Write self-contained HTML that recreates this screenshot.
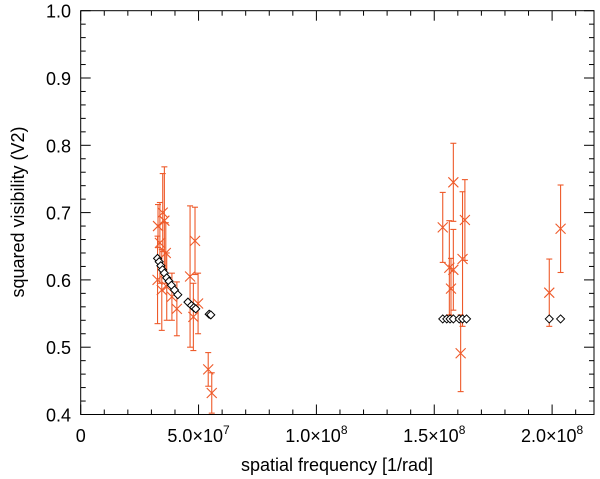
<!DOCTYPE html>
<html><head><meta charset="utf-8"><style>
html,body{margin:0;padding:0;background:#fff;}
svg{display:block;font-family:"Liberation Sans",sans-serif;}
</style></head><body>
<svg id="chart" width="600" height="479" viewBox="0 0 600 479" xmlns="http://www.w3.org/2000/svg">
<g id="axes"></g>
<g id="obs"></g>
<g id="model"></g>
<text x="337" y="471" font-size="18" text-anchor="middle">spatial frequency [1/rad]</text>
<text transform="translate(24,212) rotate(-90)" font-size="18" text-anchor="middle">squared visibility (V2)</text>
</svg>
<script>
// observed V2 (x in units of 1e7 1/rad)
const obsX = [3.28,3.26,3.36,3.44,3.48,3.55,3.61,3.65,3.87,4.08,4.64,4.78,4.85,4.98,5.41,5.56,
  15.36,15.81,16.30,16.20,15.64,15.81,15.71,16.12,19.88,20.36];
const obsY = [0.680,0.600,0.655,0.585,0.700,0.688,0.640,0.590,0.575,0.557,0.605,0.545,0.658,0.565,0.467,0.432,
  0.678,0.745,0.689,0.631,0.618,0.615,0.587,0.491,0.581,0.676];
const obsErr = [0.032,0.065,0.06,0.06,0.058,0.08,0.045,0.05,0.035,0.04,0.105,0.05,0.05,0.045,0.025,0.03,
  0.052,0.058,0.06,0.1,0.07,0.06,0.045,0.057,0.05,0.065];
// model V2
const modX = [3.26,3.33,3.40,3.47,3.55,3.65,3.75,3.85,3.98,4.12,4.55,4.70,4.80,4.88,5.45,5.52,
  15.36,15.53,15.67,15.81,16.06,16.20,16.37,19.88,20.36];
const modY = [0.632,0.627,0.621,0.615,0.610,0.603,0.598,0.592,0.585,0.578,0.567,0.562,0.559,0.557,0.549,0.548,
  0.542,0.542,0.542,0.542,0.542,0.542,0.542,0.542,0.542];
const xTicks = [0,5,10,15,20];
const xTickLabels = ["0","5.0×10<tspan dy='-8' font-size='12'>7</tspan>","1.0×10<tspan dy='-8' font-size='12'>8</tspan>","1.5×10<tspan dy='-8' font-size='12'>8</tspan>","2.0×10<tspan dy='-8' font-size='12'>8</tspan>"];
const yTicks = [0.4,0.5,0.6,0.7,0.8,0.9,1.0];
const yTickLabels = ["0.4","0.5","0.6","0.7","0.8","0.9","1.0"];

const L=80.7,R=594,T=10.7,B=414.5;
const xMin=0,xMax=(R-L)/23.57,yMin=0.4,yMax=1.0;
const sx=v=>L+(v-xMin)/(xMax-xMin)*(R-L);
const sy=v=>B-(v-yMin)/(yMax-yMin)*(B-T);
const NS="http://www.w3.org/2000/svg";
function mk(tag,attrs,parent){const e=document.createElementNS(NS,tag);for(const k in attrs)e.setAttribute(k,attrs[k]);parent.appendChild(e);return e;}
const ax=document.getElementById('axes');
const frame=mk('rect',{x:L,y:T,width:R-L,height:B-T,fill:'none',stroke:'#000','stroke-width':1},ax);


// x ticks
for(let v=0;v<=xMax;v+=1){
  const major=xTicks.includes(Math.round(v*1e6)/1e6);
  const len=major?10:5,x=sx(v);
  const t1=mk('line',{x1:x,x2:x,y1:B,y2:B-len,stroke:'#000'},ax);
  
  
  const t2=mk('line',{x1:x,x2:x,y1:T,y2:T+len,stroke:'#000'},ax);
  
  
}
xTicks.forEach((v,i)=>{
  const t=mk('text',{x:sx(v),y:442,'font-size':18,'text-anchor':'middle'},ax);
  t.innerHTML=xTickLabels[i];
  
  
});
// y ticks
for(let k=0;k<=30;k++){
  const v=0.4+k*0.02,major=k%5===0,len=major?10:5,y=sy(v);
  const t1=mk('line',{x1:L,x2:L+len,y1:y,y2:y,stroke:'#000'},ax);
  
  
  const t2=mk('line',{x1:R,x2:R-len,y1:y,y2:y,stroke:'#000'},ax);
  
  
}
yTicks.forEach((v,i)=>{
  const t=mk('text',{x:71,y:sy(v)+7,'font-size':18,'text-anchor':'end'},ax);
  t.textContent=yTickLabels[i];
  
  
});
const clip=mk('clipPath',{id:'pc'},document.getElementById('chart'));
mk('rect',{x:L,y:T,width:R-L,height:B-T},clip);
const og=document.getElementById('obs');og.setAttribute('clip-path','url(#pc)');
const C='#ee5a2a';
obsX.forEach((xv,i)=>{
  const x=sx(xv),y=sy(obsY[i]),y1=sy(obsY[i]+obsErr[i]),y2=sy(obsY[i]-obsErr[i]);
  const g=mk('g',{stroke:C,'stroke-width':1.1,fill:'none'},og);
  
  
  mk('line',{x1:x,x2:x,y1:y1,y2:y2},g);
  mk('line',{x1:x-3,x2:x+3,y1:y1,y2:y1},g);
  mk('line',{x1:x-3,x2:x+3,y1:y2,y2:y2},g);
  mk('path',{d:`M${x-5},${y-5}L${x+5},${y+5}M${x-5},${y+5}L${x+5},${y-5}`},g);
});
const mg=document.getElementById('model');
modX.forEach((xv,i)=>{
  const x=sx(xv),y=sy(modY[i]);
  const p=mk('path',{d:`M${x-4},${y}L${x},${y-4}L${x+4},${y}L${x},${y+4}Z`,fill:'#fff',stroke:'#000','stroke-width':1},mg);
  
  
});
</script>
</body></html>
